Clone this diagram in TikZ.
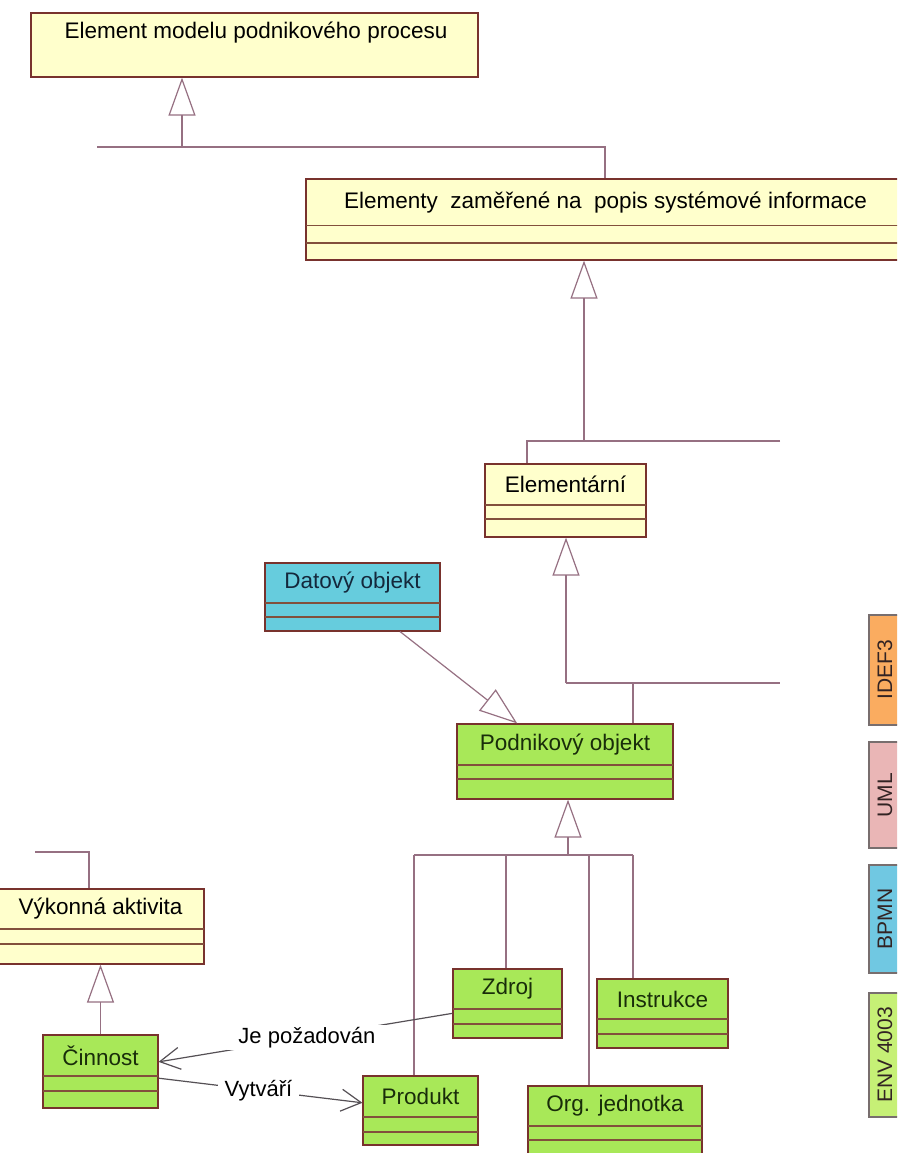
\documentclass[tikz,border=0pt]{standalone}
\usepackage{fontspec}
\setmainfont{Liberation Sans}
\usetikzlibrary{arrows.meta,calc,fit}

\definecolor{clsyellow}{RGB}{255,255,204}
\definecolor{clsgreen}{RGB}{168,232,88}
\definecolor{clscyan}{RGB}{102,204,221}
\definecolor{clsborder}{RGB}{120,50,45}
\definecolor{compline}{RGB}{130,80,60}
\definecolor{connline}{RGB}{150,112,130}
\definecolor{assocline}{RGB}{85,80,85}
\definecolor{legidef}{RGB}{250,172,96}
\definecolor{leguml}{RGB}{234,182,182}
\definecolor{legbpmn}{RGB}{112,200,226}
\definecolor{legenv}{RGB}{198,240,118}
\definecolor{legborder}{RGB}{120,110,110}
\definecolor{greentext}{RGB}{25,45,10}
\definecolor{cyantext}{RGB}{20,40,60}
\definecolor{legtext}{RGB}{50,35,35}

\tikzset{
  clsbox/.style={draw=clsborder, line width=1.2pt, inner sep=0pt},
  yellowcls/.style={fill=clsyellow, text=black},
  greencls/.style={fill=clsgreen, text=greentext},
  cyancls/.style={fill=clscyan, text=cyantext},
  compsep/.style={draw=compline, line width=1.1pt},
  clslabel/.style={font=\fontsize{22.5}{25}\selectfont, inner sep=0pt},
  conn/.style={draw=connline, line width=1.2pt},
  gen/.style={conn, -{Triangle[open, length=38pt, width=27pt, line width=1.2pt]}},
  assoc/.style={draw=assocline, line width=1.2pt, -{Straight Barb[length=20pt, width=22pt, line width=1.2pt]}},
  assoclabel/.style={fill=white, font=\fontsize{22}{25}\selectfont, text=black, inner ysep=2pt},
  legbox/.style={draw=legborder, line width=1.2pt, rotate=90, minimum height=32pt,
    text=legtext, font=\fontsize{21}{23}\selectfont, inner sep=0pt}
}

% UML class: name, style, x1, y1, x2, y2, first separator, second separator, title
\newcommand{\umlclass}[9]{%
  \node[clsbox, #2, fit={(#3,#4) (#5,#6)}] (#1) {};
  \draw[compsep] (#3,#7) -- (#5,#7);
  \draw[compsep] (#3,#8) -- (#5,#8);
  \node[clslabel, #2, fill=none, draw=none] at ({(#3+#5)/2},{(#4+#7)/2}) {#9};
}

\begin{document}
\begin{tikzpicture}[x=1pt, y=-1pt]
\useasboundingbox (0,0) rectangle (897,1153);
\clip (0,0) rectangle (897,1153);
\fill[white] (0,0) rectangle (897,1153);

% root class
\node[clsbox, yellowcls, fit={(31,13) (478,77)}] (top) {};
\node[clslabel] at (256,33) {Element modelu podnikového procesu};

% classes
\umlclass{sysinfo}{yellowcls}{306}{179}{905}{260}{225.5}{243}{Elementy\ \ zaměřené na\ \ popis systémové informace}
\umlclass{elem}{yellowcls}{485}{464}{646}{537}{505}{519}{Elementární}
\umlclass{dat}{cyancls}{265}{563}{440}{631}{603}{617}{Datový objekt}
\umlclass{podn}{greencls}{457}{724}{673}{799}{765}{779}{Podnikový objekt}
\umlclass{vyk}{yellowcls}{-3}{889}{204}{964}{929}{944}{Výkonná aktivita}
\umlclass{cin}{greencls}{43}{1035}{158}{1108}{1076}{1091}{Činnost}
\umlclass{zdroj}{greencls}{453}{969}{562}{1038}{1009}{1024}{Zdroj}
\umlclass{instr}{greencls}{597}{979}{728}{1048}{1019}{1034}{Instrukce}
\umlclass{prod}{greencls}{363}{1076}{478}{1145}{1117}{1132}{Produkt}
\umlclass{org}{greencls}{528}{1086}{702}{1157}{1126}{1140}{Org. jednotka}

% junction points of the generalization trees
\coordinate (j1) at (182,147);
\coordinate (j1l) at (97,147);
\coordinate (j1r) at (605,147);
\coordinate (j2) at (584,441);
\coordinate (j2l) at (527,441);
\coordinate (j2r) at (780,441);
\coordinate (j3) at (566,683);
\coordinate (j3p) at (633,683);
\coordinate (j3r) at (780,683);
\coordinate (j4) at (568,855);
\coordinate (j4l) at (414,855);
\coordinate (j4z) at (506,855);
\coordinate (j4o) at (589,855);
\coordinate (j4r) at (633,855);
\coordinate (v1) at (35,852);
\coordinate (v2) at (89,852);

% generalization trees
\draw[conn] (j1l) -- (j1r) -- (j1r |- sysinfo.north);
\draw[gen] (j1) -- (j1 |- top.south);

\draw[conn] (j2r) -- (j2l) -- (j2l |- elem.north);
\draw[gen] (j2) -- (j2 |- sysinfo.south);

\draw[conn] (j3) -- (j3r);
\draw[conn] (j3p) -- (j3p |- podn.north);
\draw[gen] (j3) -- (j3 |- elem.south);

\draw[conn] (j4l) -- (j4r);
\draw[conn] (j4l) -- (j4l |- prod.north);
\draw[conn] (j4z) -- (j4z |- zdroj.north);
\draw[conn] (j4o) -- (j4o |- org.north);
\draw[conn] (j4r) -- (j4r |- instr.north);
\draw[gen] (j4) -- (j4 |- podn.south);

\draw[conn] (v1) -- (v2) -- (v2 |- vyk.north);
\draw[gen] (cin.north) -- (cin.north |- vyk.south);

\draw[gen] ($(dat.south west)!0.77!(dat.south east)$) -- ($(podn.north west)!0.28!(podn.north east)$);

% associations
\draw[assoc] ($(zdroj.south west)!0.36!(zdroj.north west)$)
  -- node[assoclabel, pos=0.495, inner xsep=11pt] {Je požadován}
  ($(cin.south east)!0.63!(cin.north east)$);
\draw[assoc] ($(cin.south east)!0.41!(cin.north east)$)
  -- node[assoclabel, pos=0.49, inner xsep=7pt] {Vytváří}
  ($(prod.south west)!0.61!(prod.north west)$);

% notation legend
\node[legbox, fill=legidef, minimum width=110pt] (lidef) at (885,670) {IDEF3};
\node[legbox, fill=leguml, minimum width=106pt] (luml) at (885,795) {UML};
\node[legbox, fill=legbpmn, minimum width=108pt] (lbpmn) at (885,919) {BPMN};
\node[legbox, fill=legenv, minimum width=124pt] (lenv) at (885,1055) {ENV 4003};
\end{tikzpicture}
\end{document}
